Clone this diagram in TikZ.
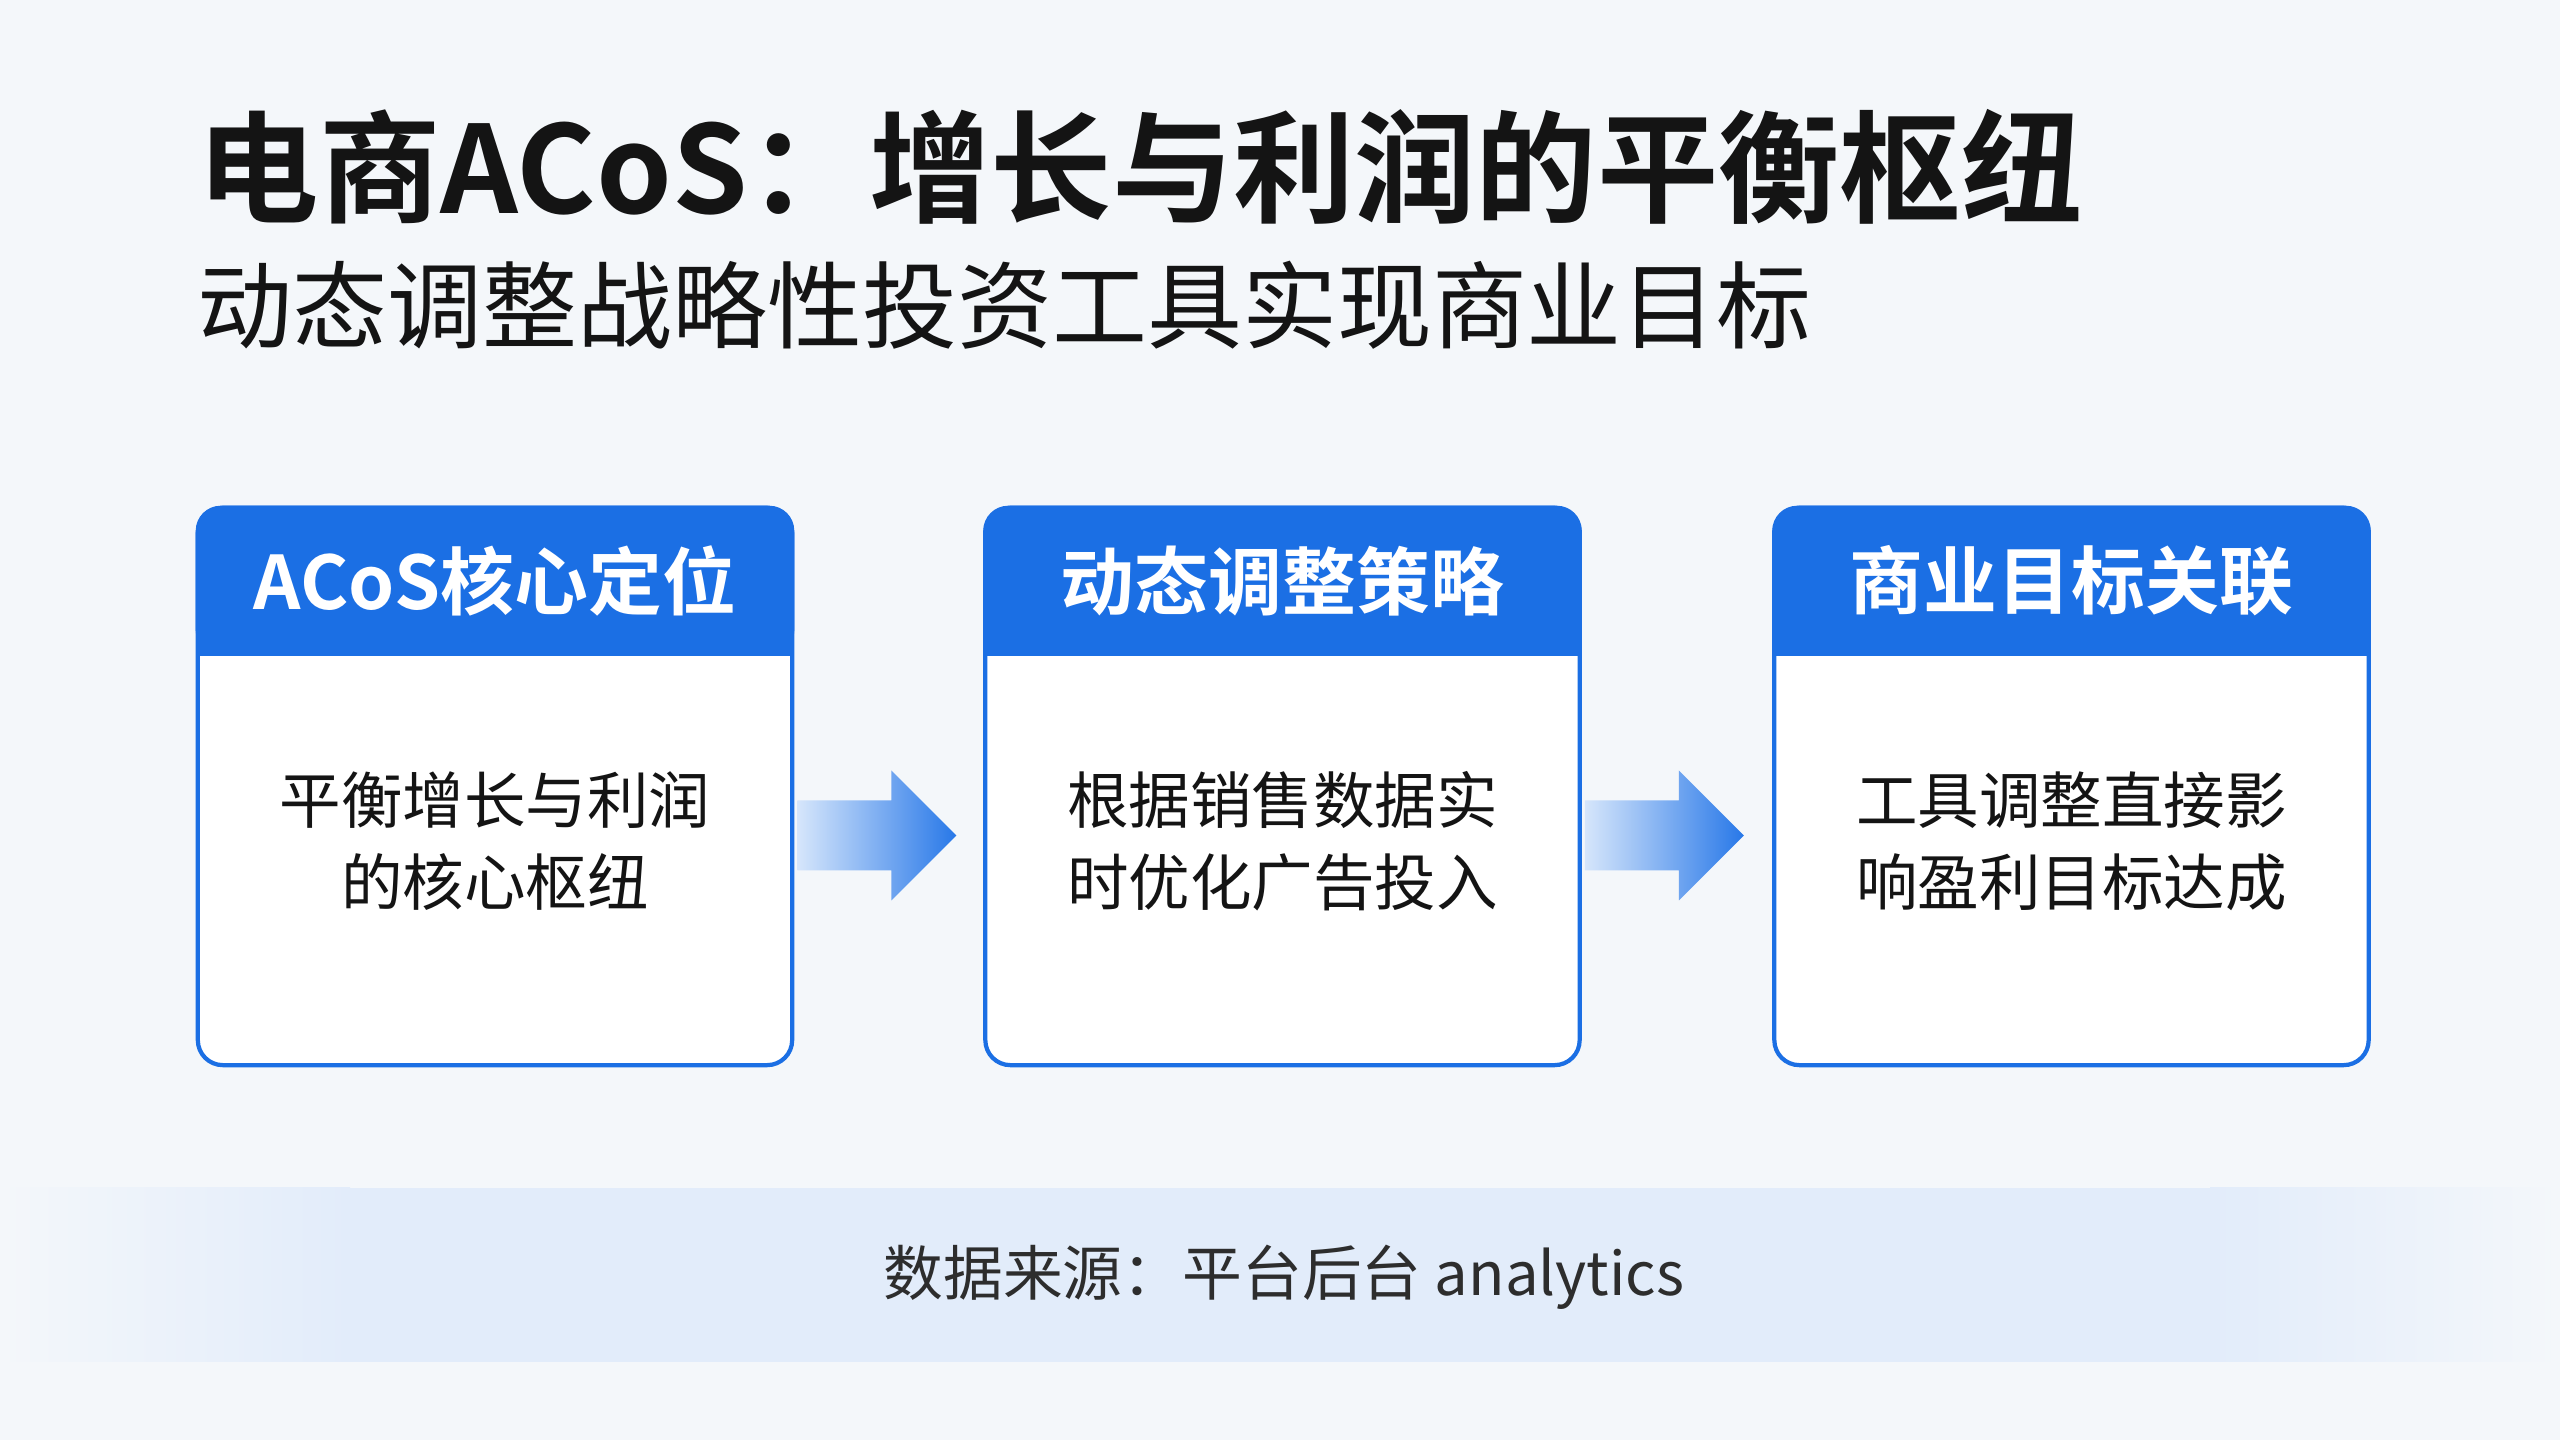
\documentclass[tikz,border=0pt]{standalone}
\usepackage{fontspec}
\setmainfont{Noto Sans CJK SC}[BoldFont={Noto Sans CJK SC Bold}]
\usetikzlibrary{calc}
\definecolor{bgpale}{RGB}{244,247,250}
\definecolor{acblue}{RGB}{27,111,228}
\definecolor{bandblue}{RGB}{226,236,250}
\definecolor{arrowpale}{RGB}{214,230,251}
\definecolor{arrowblue}{RGB}{40,120,232}
\definecolor{inkdark}{RGB}{20,20,20}
\definecolor{inkgray}{RGB}{45,45,45}

\begin{document}
\begin{tikzpicture}[x=0.01cm, y=0.01cm,
  cardbox/.style={draw=acblue, fill=white, line width=1.2pt, rounded corners=0.25cm, minimum width=5.94cm, minimum height=5.57cm, inner sep=0pt},
  cardhead/.style={font=\fontsize{21}{25}\selectfont\bfseries, text=white},
  cardtext/.style={font=\fontsize{17.5}{23.3}\selectfont, text=inkdark, align=center},
  flowarrow/.style={left color=arrowpale, right color=arrowblue, draw=none}]

  % Background
  \fill[bgpale] (0,0) rectangle (2560,1440);
  \useasboundingbox (0,0) rectangle (2560,1440);

  % Title
  \node[anchor=west, inner sep=0pt, font=\fontsize{34.5}{40}\selectfont\bfseries, text=inkdark] (title) at (197,1273) {电商ACoS：增长与利润的平衡枢纽};
  \node[anchor=west, inner sep=0pt, font=\fontsize{27}{32}\selectfont, text=inkdark] (subtitle) at (197,1135) {动态调整战略性投资工具实现商业目标};

  % Card 1: ACoS
  \node[cardbox] (card1) at (495,653.5) {};
  \fill[acblue, rounded corners=0.25cm] (card1.north west) rectangle ($(card1.north east)+(0,-150)$);
  \fill[acblue] ($(card1.north west)+(0,-150)$) rectangle ($(card1.north east)+(0,-100)$);
  \node[cardhead] (head1) at ($(card1.north)+(0,-75)$) {ACoS核心定位};
  \node[cardtext] (body1) at ($(card1.center)+(0,-55)$) {平衡增长与利润\\的核心枢纽};

  % Card 2: strategy
  \node[cardbox] (card2) at (1282.5,653.5) {};
  \fill[acblue, rounded corners=0.25cm] (card2.north west) rectangle ($(card2.north east)+(0,-150)$);
  \fill[acblue] ($(card2.north west)+(0,-150)$) rectangle ($(card2.north east)+(0,-100)$);
  \node[cardhead] (head2) at ($(card2.north)+(0,-75)$) {动态调整策略};
  \node[cardtext] (body2) at ($(card2.center)+(0,-55)$) {根据销售数据实\\时优化广告投入};

  % Card 3: goals
  \node[cardbox] (card3) at (2071.5,653.5) {};
  \fill[acblue, rounded corners=0.25cm] (card3.north west) rectangle ($(card3.north east)+(0,-150)$);
  \fill[acblue] ($(card3.north west)+(0,-150)$) rectangle ($(card3.north east)+(0,-100)$);
  \node[cardhead] (head3) at ($(card3.north)+(0,-75)$) {商业目标关联};
  \node[cardtext] (body3) at ($(card3.center)+(0,-55)$) {工具调整直接影\\响盈利目标达成};

  % Arrows between cards
  \coordinate (arr1) at ($(card1.east |- body1)+(3,6)$);
  \shade[flowarrow] ($(arr1)+(0,-35)$) -- ++(94,0) -- ++(0,-30) -- ++(65,65) -- ++(-65,65) -- ++(0,-30) -- ++(-94,0) -- cycle;
  \coordinate (arr2) at ($(card2.east |- body2)+(3,6)$);
  \shade[flowarrow] ($(arr2)+(0,-35)$) -- ++(94,0) -- ++(0,-30) -- ++(65,65) -- ++(-65,65) -- ++(0,-30) -- ++(-94,0) -- cycle;

  % Source band
  \shade[left color=bgpale, right color=bandblue] (0,78) rectangle (350,252);
  \fill[bandblue] (350,78) rectangle (2210,252);
  \shade[left color=bandblue, right color=bgpale] (2210,78) rectangle (2560,252);
  \node[font=\fontsize{17}{20}\selectfont, text=inkgray] (source) at (1284,163) {数据来源：平台后台 analytics};
\end{tikzpicture}
\end{document}
